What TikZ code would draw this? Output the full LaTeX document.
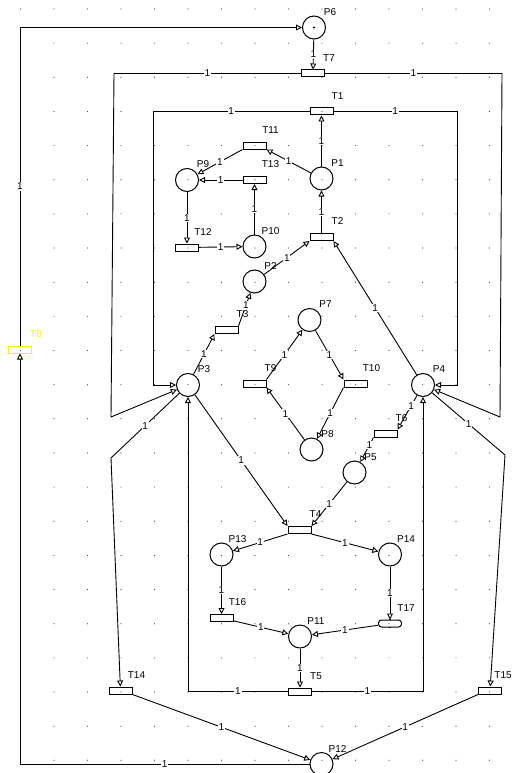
\documentclass[tikz,border=0pt]{standalone}
\usepackage{fontspec}
\setmainfont{Liberation Sans}
\usetikzlibrary{arrows.meta}

\definecolor{selyellow}{RGB}{255,240,0}

\tikzset{
  pl/.style={draw, circle, minimum size=23pt, inner sep=0pt, line width=1pt},
  tr/.style={draw, rectangle, minimum width=23pt, minimum height=7pt, inner sep=0pt, line width=1pt},
  arc/.style={line width=0.9pt, -{Triangle[open, length=6pt, width=6pt]}},
  wt/.style={fill=white, inner sep=0.8pt, font=\fontsize{10}{10}\selectfont},
  lbl/.style={inner sep=0pt, font=\fontsize{10}{10}\selectfont},
}

\begin{document}
\begin{tikzpicture}[x=1pt, y=-1pt]
\useasboundingbox (0,0) rectangle (513,773);
\fill[white] (0,0) rectangle (513,773);

% grid
\foreach \i in {0,...,14}{
  \foreach \j in {0,...,22}{
    \fill[black!70] (20.5+33.5*\i, 9+34.15*\j) circle (0.6pt);
  }
}

% places
\node[pl] (P6) at (314,27.5) {};
\fill (P6) circle (1.2pt);
\node[pl] (P1) at (321.5,178.5) {};
\node[pl] (P9) at (187,180) {};
\node[pl] (P10) at (254.5,246.5) {};
\node[pl] (P2) at (254.5,281.5) {};
\node[pl] (P7) at (309.5,320) {};
\node[pl] (P3) at (188,385) {};
\node[pl] (P4) at (423,385) {};
\node[pl] (P8) at (311.5,449.5) {};
\node[pl] (P5) at (354.5,472.5) {};
\node[pl] (P13) at (221.5,554.5) {};
\node[pl] (P14) at (390,554.5) {};
\node[pl] (P11) at (300,636.5) {};
\node[pl] (P12) at (321.5,764) {};

% transitions
\node[tr] (T7) at (313,73.5) {};
\node[tr] (T1) at (321.5,111.5) {};
\node[tr] (T11) at (254.5,145.5) {};
\node[tr] (T13) at (254.5,180) {};
\node[tr] (T12) at (187,247.5) {};
\node[tr] (T2) at (321.5,237) {};
\node[tr] (T3) at (226.5,330) {};
\node[tr] (T9) at (254.5,383.5) {};
\node[tr] (T10) at (355.5,383.5) {};
\node[tr] (T6) at (385.5,433.5) {};
\node[tr] (T4) at (299.5,530) {};
\node[tr] (T16) at (221.5,618) {};
\node[tr, rounded corners=3pt] (T17) at (390,623.5) {};
\fill ([xshift=-0.8pt,yshift=-0.8pt]T17.north) rectangle ([xshift=0.8pt,yshift=0.8pt]T17.north);
\fill ([xshift=-0.8pt,yshift=-0.8pt]T17.south) rectangle ([xshift=0.8pt,yshift=0.8pt]T17.south);
\node[tr] (T5) at (300,691.5) {};
\node[tr] (T14) at (120.5,690.5) {};
\node[tr] (T15) at (490,690.5) {};
\node[tr, draw=selyellow] (T8) at (20,349.5) {};

% names
\foreach \n in {1,...,14}
  \node[lbl] at ([shift={(16,-15.5)}]P\n) {P\n};
\foreach \n in {1,2,3,4,5,6,7,9,10,11,12,13,14,16,17}
  \node[lbl] at ([shift={(16,-15.5)}]T\n) {T\n};
\node[lbl] at ([shift={(13,-15.5)}]T15) {T15};
\node[lbl, text=selyellow] at ([shift={(16,-15.5)}]T8) {T8};

% arcs
\draw[arc] (P6) -- node[wt]{1} (T7);
\draw[arc] (T7) -- node[wt]{1} (114,73.5) -- (111,417) -- (P3);
\draw[arc] (T7) -- node[wt]{1} (502,73.5) -- (500,417) -- (P4);
\draw[arc] (T1) -- node[wt]{1} (153,111.5) |- (P3);
\draw[arc] (T1) -- node[wt]{1} (457,111.5) |- (P4);
\draw[arc] (P1) -- node[wt]{1} (T1);
\draw[arc] (P1) -- node[wt]{1} (T11.south east);
\draw[arc] (T11.south west) -- node[wt]{1} (P9);
\draw[arc] (T13) -- node[wt]{1} (P9);
\draw[arc] (P10) -- node[wt]{1} (T13);
\draw[arc] (P9) -- node[wt]{1} (T12);
\draw[arc] (T12) -- node[wt]{1} (P10);
\draw[arc] (T2) -- node[wt]{1} (P1);
\draw[arc] (P2) -- node[wt]{1} (T2.south west);
\draw[arc] (P4) -- node[wt]{1} (T2.south east);
\draw[arc] (T3.north east) -- node[wt, pos=0.62]{1} (P2);
\draw[arc] (P3) -- node[wt]{1} (T3.south west);
\draw[arc] (T9.north east) -- node[wt]{1} (P7);
\draw[arc] (P7) -- node[wt]{1} (T10.north west);
\draw[arc] (T10.south west) -- node[wt]{1} (P8);
\draw[arc] (P8) -- node[wt]{1} (T9.south east);
\draw[arc] (P4) -- node[wt, pos=0.3]{1} (T6.north east);
\draw[arc] (T6.south west) -- node[wt, pos=0.3]{1} (P5);
\draw[arc] (P3) -- node[wt]{1} (T4.north west);
\draw[arc] (P5) -- node[wt]{1} (T4.north east);
\draw[arc] (T4.south west) -- node[wt]{1} (P13);
\draw[arc] (T4.south east) -- node[wt]{1} (P14);
\draw[arc] (P13) -- node[wt]{1} (T16);
\draw[arc] (T16) -- node[wt]{1} (P11);
\draw[arc] (P14) -- node[wt]{1} (T17);
\draw[arc] (T17) -- node[wt]{1} (P11);
\draw[arc] (P11) -- node[wt]{1} (T5);
\draw[arc] (T5) -- node[wt]{1} (P3 |- T5) -- (P3);
\draw[arc] (T5) -- node[wt]{1} (P4 |- T5) -- (P4);
\draw[arc] (P3) -- node[wt]{1} (111,458) -- (T14);
\draw[arc] (T14.south east) -- node[wt]{1} (P12);
\draw[arc] (P4) -- node[wt]{1} (505,455) -- (T15);
\draw[arc] (T15.south west) -- node[wt]{1} (P12);
\draw[arc] (P12) -- node[wt]{1} (T8 |- P12) -- (T8);
\draw[arc] (T8) -- node[wt]{1} (T8 |- P6) -- (P6);
\end{tikzpicture}
\end{document}
